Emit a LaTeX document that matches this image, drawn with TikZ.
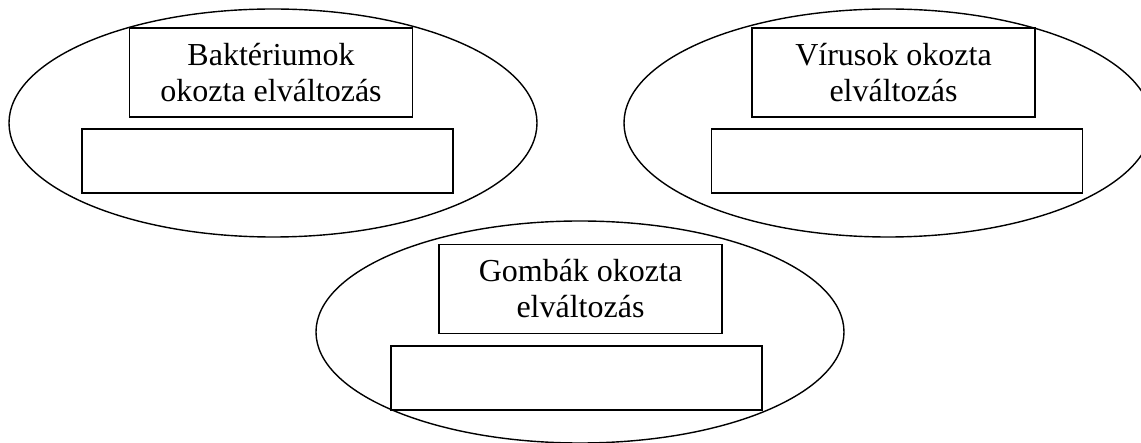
\documentclass[tikz,border=0pt]{standalone}
\usepackage{fontspec}
\setmainfont{Liberation Serif}
\usetikzlibrary{shapes.geometric,positioning}

\tikzset{
  folt/.style={draw, ellipse, line width=1.4pt, inner sep=0pt,
    minimum width=528pt, minimum height=228pt},
  cimke/.style={draw, rectangle, line width=1.4pt, inner sep=0pt,
    minimum width=283pt, minimum height=89pt, align=center,
    font=\fontsize{32}{36}\selectfont},
  ures/.style={draw, rectangle, line width=1.4pt, inner sep=0pt,
    minimum width=371pt, minimum height=64pt},
}

\begin{document}
\begin{tikzpicture}[x=1pt,y=-1pt]
  \useasboundingbox (0,0) rectangle (1141,443);

  %% baktériumok
  \node[folt] (bakt) at (273,123) {};
  \node[cimke] (baktnev) at (271,72.5) {Baktériumok\\okozta elváltozás};
  \node[ures] (baktdoboz) at (267.5,161) {};

  %% vírusok
  \node[folt] (virus) at (888,123) {};
  \node[cimke] (virusnev) at (893.5,72.5) {Vírusok okozta\\elváltozás};
  \node[ures] (virusdoboz) at (897,161) {};

  %% gombák
  \node[folt, minimum height=222pt] (gomba) at (580,332) {};
  \node[cimke] (gombanev) at (580.5,289) {Gombák okozta\\elváltozás};
  \node[ures] (gombadoboz) at (576.5,378) {};
\end{tikzpicture}
\end{document}
